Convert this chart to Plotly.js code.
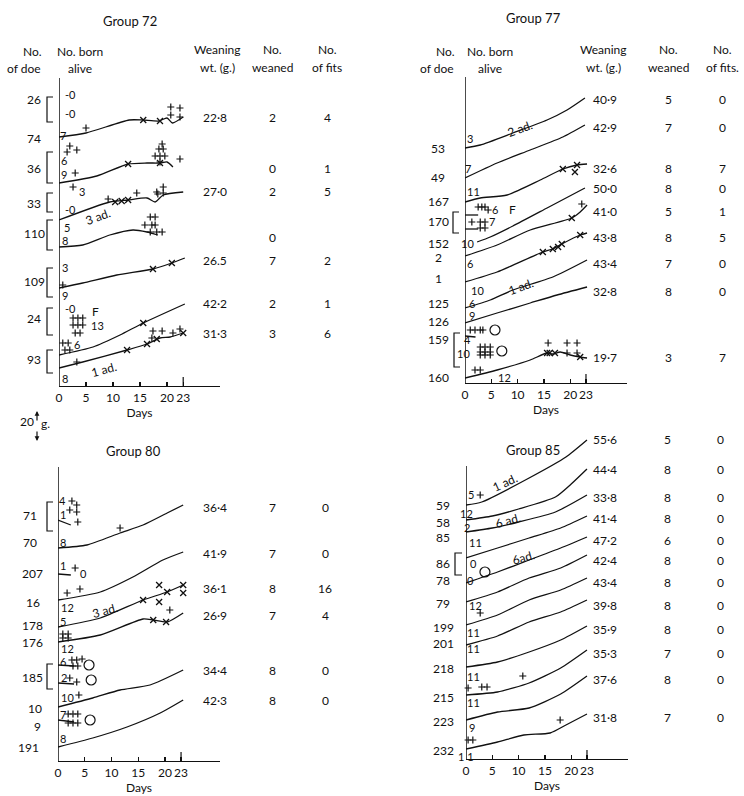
<!DOCTYPE html>
<html><head><meta charset="utf-8">
<script src="https://cdn.plot.ly/plotly-3.0.1.min.js"></script>
<style>body{margin:0;background:#fff}</style></head>
<body><div id="chart" style="width:744px;height:796px"></div>
<script>
// ---------------- DATA ----------------
// Group 72 growth curves (days, litter level above baseline)
const g72Days = [
 [0,5,13,15.5,18.5,20,21,23],
 [0,7,12.8,16.3,18.7,20,21.1],
 [0,9.4,12.8,16.3,17.8,19.3,23],
 [0,4.4,9.4,13.7,16.3,18.3],
 [0,4.4,10.7,17.4,20.9,23.3],
 [0,6.3,11.3,15.6,23.3],
 [0,4.4,12.6,16.3,18.7,20.6,23]
];
const g72Levels = [
 [249,253,266,266,265,268,263,269],
 [203,210,222,223,223,224,219],
 [166,184,186,188,184,191,194],
 [139,141,151,156,154,151],
 [98,103,111,117,123,128],
 [31,39,51,63,82],
 [18,24,36,42,48,49,53]
];
const g72FitDays = [15.6,18.7,12.8,18.7,10.4,11.6,12.8,17.4,20.9,15.6,12.6,16.3,18.1,23];
const g72FitLevels = [266,265,222,223,184,185,186,117,123,63,36,42,47,53];
const g72PlusDays = [5,20.7,22.4,20.7,22.4,-0.7, 19.1,18.5,19.3,17.8,18.7,19.6,18.7,22.4, 2,1.5,3.3,3, 2.6,19.3,18.1,19.3,9.1,14.4,18.3, 16.9,17.8,15.9,17.2,17.8,16.9,18.1,19.1, -1.1,0.7, 2.6,3.5,4.4,2.6,3.5,4.4,3,3.9,-1.1, 0.7,1.7,1.1,2, 17.4,19.1,17.2,21.1,22.4,3.3,-1.1, -1.3,-0.6,-1.3,-0.6,-1.3,-0.6,-1.5,-0.8];
const g72PlusLevels = [258,279,278,271,269,250, 242,237,237,230,230,230,224,227, 240,234,236,213, 199,199,194,193,187,193,192, 169,169,161,161,161,154,154,154, 111,101, 68,68,68,61,61,61,53,53,63, 43,43,36,36, 55,55,48,53,57,24,17, 272,272,266,266,260,260,146,151];
const g72Does = ['26','74','36','33','110','109','24','93'];
const g72Born = ['-0','-0','7','6','9','3','-0','5','8','3','9','-0','13','6','8'];
const g72Wean = ['22·8','','27·0','','26.5','42·2','31·3'];
const g72Weaned = ['2','0','2','0','7','2','3'];
const g72Fits = ['4','1','5','','2','1','6'];

// Group 77
const g77Days = [
 [0,2.9,9.1,15.6,19.4,22.8],
 [0,6.1,12.4,18.6,22.8],
 [0,2.9,8,14.3,18.6,21.3,23.2],
 [2.3,4.8,9.1,15.6,22.8],
 [0,6.1,12.4,20.3,21.9,23.2],
 [0,6.1,14.8,16.7,18.4,21.9,23.2],
 [0,4.8,9.1,16.7,23.2],
 [0,6.1,12.4,17.5,23.2],
 [0,6.1,12.4,15.6,16.7,18.1,20,21.9,23.2],
 [0,2.5],[0,2.5],[0,2]
];
const g77Levels = [
 [235,238,250,263,273,285],
 [205,220,233,246,258],
 [181,185,188,203,214,218,219],
 [141,146,157,175,195],
 [127,138,153,165,171,178],
 [101,111,131,134,139,148,150],
 [75,83,93,106,123],
 [60,70,80,88,96],
 [5,13,23,30,29,31,28,26,25],
 [168,168],[154,154],[47,46]
];
const g77FitDays = [18.6,21.3,20.9,20.3,14.8,16.7,17.7,18.4,21.9,15.6,16.1,17.1,21.9];
const g77FitLevels = [214,218,211,165,131,134,136,139,148,30,30,30,26];
const g77PlusDays = [22.2,15.8,19.4,21.3,19.4,21.3,-1.3,-1.9,-1,-1.1,-1.1, 2.5,3.2,3.8,4.4, 1.3,2.9,3.8,2.9,3.8, 1,1.9,2.9,3.4,-1.3,-0.6, 2.9,3.8,4.8,2.9,3.8,4.8,2.9,3.8,4.8, 1.9,2.9];
const g77PlusLevels = [179,40,40,40,30,30,245,245,171,105,79, 176,176,176,173, 161,161,161,155,155, 53,53,53,53,46,46, 36,36,36,31,31,31,28,28,28, 13,13];
const g77RingDays = [5.7,7];
const g77RingLevels = [53,32];
const g77Does = ['53','49','167','170','152','2','1','125','126','159','160'];
const g77Born = ['3','7','11','6','7','10','6','10','6','9','4','10','12'];
const g77Wean = ['40·9','42·9','32·6','50·0','41·0','43·8','43·4','32·8','19·7'];
const g77Weaned = ['5','7','8','8','5','8','7','8','3'];
const g77Fits = ['0','0','7','0','1','5','0','0','7'];

// Group 80
const g80Days = [
 [0,5.4,11.6,15.9,20.4,23.4],
 [0,7.9,14,19.6,23.4],
 [0,7.9,15.9,20.4,23.4],
 [0,7.9,15.9,17.8,20.4,23.4],
 [0,6.5,11.6,17.2,23.4],
 [0,6.5,12.9,19.1,23.4],
 [0,2.4],[0,2.4],[0,3],[0,3],[0,3]
];
const g80Levels = [
 [213,216,228,236,248,256],
 [161,169,184,201,209],
 [134,143,161,169,176],
 [119,126,142,141,139,148],
 [54,63,71,76,91],
 [14,23,34,48,61],
 [241,236],[187,186],[96,95],[78,77],[41,39]
];
const g80FitDays = [15.9,20.4,18.9,23.4,23.4,18.9,17.8,20.2];
const g80FitLevels = [161,169,176,176,168,159,141,139];
const g80PlusDays = [2.6,3.5,2.2,3.5,3.7,-0.9,-1.5,11.6, 3.2,-1.5,-0.9, 1.7,4.1,-0.9,20.9, 0.9,1.9,0.9,1.9, 2.6,3.5,4.5,2.8,3.7,2.2,3.5,3.9, -3,-2.1,-1.1, 1.9,2.8,3.7,1.9,2.8,3.7];
const g80PlusLevels = [260,256,251,249,239,251,239,233, 193,193,193, 168,172,163,151, 127,127,123,123, 101,101,102,95,95,83,79,66, 43,42,41, 47,47,47,38,38,38];
const g80RingDays = [5.8,6.2,6];
const g80RingLevels = [96,81,41];
const g80Does = ['71','70','207','16','178','176','185','10','9','191'];
const g80Born = ['4','1','8','1','0','12','5','12','6','2','10','7','8'];
const g80Wean = ['36·4','41·9','36·1','26·9','34·4','42·3'];
const g80Weaned = ['7','7','8','7','8','8'];
const g80Fits = ['0','0','16','4','0','0'];

// Group 85
const g85Days = [
 [0,3,12,19,23],
 [0,5,10,17,20,23],
 [0,5,10,17,23],
 [0,6,12,18,23],
 [0,6,12,18,23],
 [0,6,12,18,23],
 [0,6,12,18,23],
 [0,6,12,18,23],
 [0,6,12,18,23],
 [0,6,12,18,23],
 [0,6,12,18,23],
 [0,6,11,16,19,23]
];
const g85Levels = [
 [254,257,281,302,319],
 [239,243,250,262,275,290],
 [227,231,237,247,264],
 [201,211,221,231,243],
 [176,187,199,211,222],
 [157,167,181,191,204],
 [134,144,159,169,181],
 [114,123,137,147,159],
 [92,97,107,119,133],
 [64,67,76,91,109],
 [39,47,51,65,83],
 [10,17,24,26,34,45]
];
const g85PlusDays = [2.7,2.7,10.8,0.4,3,4,17.9,0.4,1.3,-1.3,-1.3];
const g85PlusLevels = [264,146,83,71,72,72,39,19,19,196,179];
const g85RingDays = [3.6];
const g85RingLevels = [187];
const g85Does = ['59','58','85','86','78','79','199','201','218','215','223','232'];
const g85Born = ['5','12','2','11','0','0','12','11','11','11','11','9','1 1'];
const g85Wean = ['55·6','44·4','33·8','41·4','47·2','42·4','43·4','39·8','35·9','35·3','37·6','31·8'];
const g85Weaned = ['5','8','8','8','6','8','8','8','8','7','8','7'];
const g85Fits = ['0','0','0','0','0','0','0','0','0','0','0','0'];

const dayTicks = [0,5,10,15,20,23];

// ---------------- LAYOUT HELPERS ----------------
const W = 744, H = 796;
const FONT = 'Lato, "Open Sans", "DejaVu Sans", sans-serif';
const INK = '#111';
const px = x => x / W, py = y => 1 - y / H;
const ann = [], shapes = [], traces = [];
function txt(t, x, y, o) {
  o = o || {};
  ann.push({text: t, x: px(x), y: py(y), xref: 'paper', yref: 'paper', showarrow: false,
    textangle: o.angle || 0, xanchor: o.xanchor || 'center', yanchor: 'middle',
    font: {family: FONT, size: o.size || 12, color: INK}});
}
function bracket(xl, xr, yt, yb) {
  shapes.push({type: 'path', xref: 'paper', yref: 'paper', line: {color: INK, width: 1.2},
    path: `M ${px(xr)},${py(yt)} L ${px(xl)},${py(yt)} L ${px(xl)},${py(yb)} L ${px(xr)},${py(yb)}`});
}

// panel geometry (pixels): axis line from base up to top; plot area may extend to 'clip'
const panels = [
  {id: '',  x0: 59,  ppd: 5.4,  base: 386, top: 78,  clip: 78,  right: 220},
  {id: '2', x0: 465, ppd: 5.26, base: 383, top: 77,  clip: 77,  right: 627},
  {id: '3', x0: 58,  ppd: 5.35, base: 761, top: 467, clip: 467, right: 220},
  {id: '4', x0: 466, ppd: 5.26, base: 759, top: 466, clip: 425, right: 628}
];
const layout = {width: W, height: H, margin: {l: 0, r: 0, t: 0, b: 0},
  paper_bgcolor: '#fff', plot_bgcolor: 'rgba(0,0,0,0)', showlegend: false};
panels.forEach(p => {
  layout['xaxis' + p.id] = {domain: [px(p.x0), px(p.right)], range: [0, (p.right - p.x0) / p.ppd],
    anchor: 'y' + p.id, showline: true, linecolor: INK, linewidth: 1.3, ticks: 'inside', ticklen: 4,
    tickcolor: INK, tickwidth: 1.2, tickvals: dayTicks, ticktext: dayTicks.map(String), tickangle: 0,
    tickfont: {family: FONT, size: 12, color: INK}, showgrid: false, zeroline: false, fixedrange: true,
    title: {text: 'Days', font: {family: FONT, size: 12, color: INK}, standoff: 3}};
  layout['yaxis' + p.id] = {domain: [py(p.base), py(p.clip)], range: [0, p.base - p.clip],
    anchor: 'x' + p.id, showline: false, showticklabels: false,
    ticks: '', showgrid: false, zeroline: false, fixedrange: true};
  shapes.push({type: 'line', xref: 'x' + p.id, yref: 'y' + p.id, x0: 0, x1: 0, y0: 0, y1: p.base - p.top,
    line: {color: INK, width: 1.5}});
  shapes.push({type: 'line', xref: 'x' + p.id, yref: 'y' + p.id, x0: 23, x1: 23, y0: 0, y1: 9,
    line: {color: INK, width: 1.2}});
});

function addPanel(id, days, levels, fitD, fitL, plusD, plusL, ringD, ringL) {
  const xa = 'x' + id, ya = 'y' + id;
  days.forEach((d, i) => traces.push({type: 'scatter', mode: 'lines', x: d, y: levels[i], xaxis: xa, yaxis: ya,
    line: {color: INK, width: 1.3, shape: 'spline', smoothing: 0.6}, hoverinfo: 'skip'}));
  if (fitD) traces.push({type: 'scatter', mode: 'markers', x: fitD, y: fitL, xaxis: xa, yaxis: ya, cliponaxis: false,
    marker: {symbol: 'x-thin', size: 6, color: INK, line: {color: INK, width: 1.3}}, hoverinfo: 'skip'});
  if (plusD) traces.push({type: 'scatter', mode: 'markers', x: plusD, y: plusL, xaxis: xa, yaxis: ya, cliponaxis: false,
    marker: {symbol: 'cross-thin', size: 5, color: INK, line: {color: INK, width: 1.2}}, hoverinfo: 'skip'});
  if (ringD) traces.push({type: 'scatter', mode: 'markers', x: ringD, y: ringL, xaxis: xa, yaxis: ya, cliponaxis: false,
    marker: {symbol: 'circle-open', size: 10, color: INK, line: {color: INK, width: 1.2}}, hoverinfo: 'skip'});
}
addPanel('', g72Days, g72Levels, g72FitDays, g72FitLevels, g72PlusDays, g72PlusLevels);
addPanel('2', g77Days, g77Levels, g77FitDays, g77FitLevels, g77PlusDays, g77PlusLevels, g77RingDays, g77RingLevels);
addPanel('3', g80Days, g80Levels, g80FitDays, g80FitLevels, g80PlusDays, g80PlusLevels, g80RingDays, g80RingLevels);
addPanel('4', g85Days, g85Levels, null, null, g85PlusDays, g85PlusLevels, g85RingDays, g85RingLevels);

// ---------- headers ----------
function headers(cx) {
  txt('No.', cx[0], 52); txt('of doe', cx[0] - 8, 68);
  txt('No. born', cx[1], 52); txt('alive', cx[1], 68);
  txt('Weaning', cx[2], 50); txt('wt. (g.)', cx[2], 67);
  txt('No.', cx[3], 50); txt('weaned', cx[3], 67);
  txt('No.', cx[4], 50); txt(cx[5], cx[4], 67);
}
txt('Group 72', 130, 21, {size: 13});
headers([32, 80, 217, 272, 327, 'of fits']);
txt('Group 77', 533, 18, {size: 13});
headers([445, 490, 603, 668, 722, 'of fits.']);
txt('Group 80', 133, 451, {size: 13});
txt('Group 85', 533, 450, {size: 13});

// ---------- row labels ----------
const SB = {size: 11};
function labels(arr, xs, ys, o) { arr.forEach((t, i) => txt(t, Array.isArray(xs) ? xs[i] : xs, ys[i], o)); }
// group 72
labels(g72Does, 34, [100,138,168,203,233,282,318,360]);
labels(g72Born, [70,70,63,64,64,82,70,67,65,65,65,70,97,77,65], [94,113,136,161,174,192,209,227,241,267,295,308,325,344,378], SB);
txt('F', 95, 312); txt('3 ad.', 98, 216, {angle: -20}); txt('1 ad.', 104, 369, {angle: -15});
const g72Rows = [117,168,192,237,260,303,333];
labels(g72Wean, 215, g72Rows); labels(g72Weaned, 272, g72Rows); labels(g72Fits, 327, g72Rows);
[[47,53,97,122],[47,53,152,183],[47,53,193,212],[47,53,220,250],[47,53,268,297],[47,53,308,335],[47,53,350,373]].forEach(b => bracket(...b));

// group 77
labels(g77Does, 438, [148,177,202,222,243,257,278,303,322,340,377]);
labels(g77Born, [470,468,473,495,492,467,470,477,472,472,467,463,505], [138,168,192,209,222,243,263,290,303,315,340,353,377], SB);
txt('F', 512, 210); txt('2 ad.', 520, 128, {angle: -20}); txt('1 ad.', 521, 286, {angle: -20});
const g77Rows = [100,127,168,188,212,237,263,292,357];
labels(g77Wean, 605, g77Rows); labels(g77Weaned, 668, g77Rows); labels(g77Fits, 722, g77Rows);
bracket(453, 459, 212, 233); bracket(454, 460, 333, 367);

// group 80
labels(g80Does, [30,30,32,33,32,32,32,35,37,28], [515,542,573,602,625,642,677,708,726,747]);
labels(g80Born, [63,63,63,63,83,67,63,67,63,64,67,63,63], [500,514,542,565,573,607,621,648,661,677,697,714,738], SB);
txt('3 ad.', 105, 610, {angle: -15});
const g80Rows = [507,553,588,615,670,700];
labels(g80Wean, 215, g80Rows); labels(g80Weaned, 272, g80Rows); labels(g80Fits, 325, g80Rows);
bracket(47, 53, 502, 531); bracket(47, 53, 664, 689);

// group 85
labels(g85Does, 443, [505,522,537,563,580,603,627,643,668,697,721,750]);
labels(g85Born, [471,466,467,475,473,470,475,473,473,473,473,472,466], [495,513,527,542,563,580,605,632,648,676,702,727,756], SB);
txt('1 ad.', 505, 482, {angle: -25}); txt('6 ad.', 508, 520, {angle: -15}); txt('6ad.', 523, 557, {angle: -15});
const g85Rows = [440,469,497,518,540,560,582,605,629,653,679,717];
labels(g85Wean, 605, g85Rows); labels(g85Weaned, 667, g85Rows); labels(g85Fits, 720, g85Rows);
bracket(455, 462, 553, 575);

// scale bar "20 g."
txt('20', 27, 421); txt('g.', 45, 423);
ann.push({x: px(37), y: py(411), xref: 'paper', yref: 'paper', text: '', showarrow: true, ax: 0, ay: 11,
  arrowhead: 2, arrowsize: 0.8, arrowwidth: 1.2, arrowcolor: INK});
ann.push({x: px(37), y: py(441), xref: 'paper', yref: 'paper', text: '', showarrow: true, ax: 0, ay: -11,
  arrowhead: 2, arrowsize: 0.8, arrowwidth: 1.2, arrowcolor: INK});

layout.annotations = ann;
layout.shapes = shapes;
Plotly.newPlot('chart', traces, layout, {staticPlot: true, displayModeBar: false});
</script></body></html>
